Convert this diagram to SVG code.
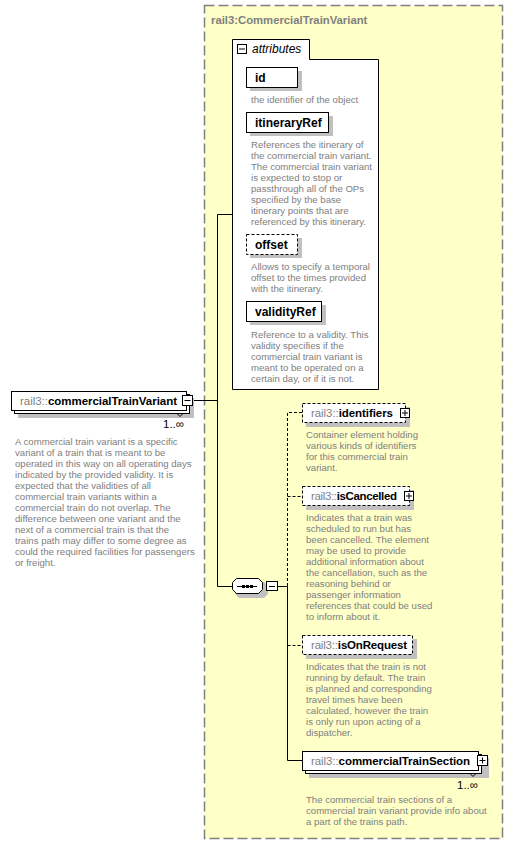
<svg xmlns="http://www.w3.org/2000/svg" width="514" height="845" viewBox="0 0 514 845">
<style>
  .frame { fill: #ffffc8; stroke: #808080; stroke-width: 1.5; stroke-dasharray: 10 4; }
  .title { font-family: "Liberation Sans", Arial, sans-serif; font-size: 11.3px; font-weight: bold; fill: #808080; }
  .box { fill: #ffffff; stroke: #000000; stroke-width: 1; }
  .opt { fill: #ffffff; stroke: #000000; stroke-width: 1; stroke-dasharray: 3 2; }
  .shadow { fill: #c0c0c0; }
  .lbl { font-family: "Liberation Sans", Arial, sans-serif; font-size: 12px; font-weight: bold; fill: #000000; }
  .el { font-size: 11.5px; }
  .ns { font-weight: normal; fill: #808080; }
  .desc { font-family: "Liberation Sans", Arial, sans-serif; font-size: 9.6px; fill: #808080; }
  .card { font-family: "Liberation Sans", Arial, sans-serif; font-size: 11.5px; fill: #000000; }
  .wire { fill: none; stroke: #000000; stroke-width: 1; }
  .dwire { fill: none; stroke: #000000; stroke-width: 1; stroke-dasharray: 3 2; }
  .btn { fill: #ffffff; stroke: #000000; stroke-width: 1; }
</style>

<!-- complex type frame -->
<g id="type-frame">
  <rect class="frame" x="204.5" y="5.5" width="298" height="833"/>
  <text class="title" x="211" y="24">rail3:CommercialTrainVariant</text>
</g>

<!-- connectors -->
<g id="connectors">
  <path class="wire" d="M193,400.5 H217.5 M217.5,214.5 V586.5 M217.5,214.5 H232 M217.5,586.5 H232"/>
  <path class="wire" d="M278,586.5 H287.5 V760.5 H302"/>
  <path class="dwire" d="M287.5,586 V412.5 H302 M287.5,496.5 H302 M287.5,645.5 H302"/>
</g>

<!-- attributes group -->
<g id="attributes">
  <path class="box" d="M232.5,389.5 V39.5 H309.5 V59.5 H378.5 V389.5 Z"/>
  <rect class="btn" x="237.5" y="44.5" width="9" height="9"/>
  <path class="wire" d="M239,49 H245"/>
  <text x="252" y="53" style="font-family:'Liberation Sans',Arial,sans-serif;font-size:12px;font-style:italic;fill:#000">attributes</text>
</g>

<g id="attr-id">
  <rect class="shadow" x="250" y="71" width="52" height="20"/>
  <rect class="box" x="246.5" y="67.5" width="51" height="20"/>
  <text class="lbl" x="255" y="82">id</text>
  <text class="desc" x="251" y="103">the identifier of the object</text>
</g>

<g id="attr-itineraryRef">
  <rect class="shadow" x="250" y="116" width="83" height="20"/>
  <rect class="box" x="246.5" y="112.5" width="82" height="20"/>
  <text class="lbl" x="255" y="127">itineraryRef</text>
  <text class="desc" x="251" y="147.5">References the itinerary of</text>
  <text class="desc" x="251" y="158.5">the commercial train variant.</text>
  <text class="desc" x="251" y="169.5">The commercial train variant</text>
  <text class="desc" x="251" y="180.5">is expected to stop or</text>
  <text class="desc" x="251" y="191.5">passthrough all of the OPs</text>
  <text class="desc" x="251" y="202.5">specified by the base</text>
  <text class="desc" x="251" y="213.5">itinerary points that are</text>
  <text class="desc" x="251" y="224.5">referenced by this itinerary.</text>
</g>

<g id="attr-offset">
  <rect class="shadow" x="250" y="238" width="52" height="20"/>
  <rect class="opt" x="246.5" y="234.5" width="51" height="20"/>
  <text class="lbl" x="255" y="249">offset</text>
  <text class="desc" x="251" y="270">Allows to specify a temporal</text>
  <text class="desc" x="251" y="281">offset to the times provided</text>
  <text class="desc" x="251" y="292">with the itinerary.</text>
</g>

<g id="attr-validityRef">
  <rect class="shadow" x="250" y="305" width="76" height="20"/>
  <rect class="box" x="246.5" y="301.5" width="75" height="20"/>
  <text class="lbl" x="255" y="316">validityRef</text>
  <text class="desc" x="251" y="337.5">Reference to a validity. This</text>
  <text class="desc" x="251" y="348.5">validity specifies if the</text>
  <text class="desc" x="251" y="359.5">commercial train variant is</text>
  <text class="desc" x="251" y="370.5">meant to be operated on a</text>
  <text class="desc" x="251" y="381.5">certain day, or if it is not.</text>
</g>

<!-- root element -->
<g id="commercialTrainVariant">
  <rect class="shadow" x="18" y="398" width="176" height="20"/>
  <rect class="box" x="14.5" y="394.5" width="175" height="19"/>
  <rect class="box" x="11.5" y="391.5" width="175" height="19"/>
  <path class="wire" d="M177,413.5 L180,416.5 L183,413.5"/>
  <text class="lbl el" x="20" y="405" textLength="157"><tspan class="ns">rail3::</tspan>commercialTrainVariant</text>
  <rect class="btn" x="182.5" y="395.5" width="10" height="10"/>
  <path class="wire" d="M184.5,400.5 H190.5"/>
  <text class="card" x="163" y="428">1..∞</text>
  <text class="desc" x="15" y="444.5">A commercial train variant is a specific</text>
  <text class="desc" x="15" y="455.5">variant of a train that is meant to be</text>
  <text class="desc" x="15" y="466.5">operated in this way on all operating days</text>
  <text class="desc" x="15" y="477.5">indicated by the provided validity. It is</text>
  <text class="desc" x="15" y="488.5">expected that the validities of all</text>
  <text class="desc" x="15" y="499.5">commercial train variants within a</text>
  <text class="desc" x="15" y="510.5">commercial train do not overlap. The</text>
  <text class="desc" x="15" y="521.5">difference between one variant and the</text>
  <text class="desc" x="15" y="532.5">next of a commercial train is that the</text>
  <text class="desc" x="15" y="543.5">trains path may differ to some degree as</text>
  <text class="desc" x="15" y="554.5">could the required facilities for passengers</text>
  <text class="desc" x="15" y="565.5">or freight.</text>
</g>

<!-- sequence compositor -->
<g id="sequence">
  <path class="shadow" d="M239,582 H264 L268,586 V594 L264,598 H239 L235,594 V586 Z"/>
  <path class="box" d="M236.5,578.5 H258.5 L262.5,582.5 V589.5 L258.5,593.5 H236.5 L232.5,589.5 V582.5 Z"/>
  <path class="wire" d="M237,586.5 H257"/>
  <rect x="242" y="585" width="3" height="3" fill="#000"/>
  <rect x="246" y="585" width="3" height="3" fill="#000"/>
  <rect x="250" y="585" width="3" height="3" fill="#000"/>
  <rect class="btn" x="266.5" y="581.5" width="11" height="9"/>
  <path class="wire" d="M269,586.5 H275"/>
</g>

<g id="identifiers">
  <rect class="shadow" x="306" y="407" width="104" height="20"/>
  <rect class="opt" x="302.5" y="403.5" width="103" height="19"/>
  <text class="lbl el" x="311" y="417" textLength="82"><tspan class="ns">rail3::</tspan>identifiers</text>
  <rect class="btn" x="400.5" y="408.5" width="9" height="9"/>
  <path class="wire" d="M402,413 H408 M405,410 V416"/>
  <text class="desc" x="306" y="438">Container element holding</text>
  <text class="desc" x="306" y="449">various kinds of identifiers</text>
  <text class="desc" x="306" y="460">for this commercial train</text>
  <text class="desc" x="306" y="471">variant.</text>
</g>

<g id="isCancelled">
  <rect class="shadow" x="306" y="490" width="108" height="20"/>
  <rect class="opt" x="302.5" y="486.5" width="107" height="19"/>
  <text class="lbl el" x="311" y="500" textLength="86"><tspan class="ns">rail3::</tspan>isCancelled</text>
  <rect class="btn" x="404.5" y="491.5" width="9" height="9"/>
  <path class="wire" d="M406,496 H412 M409,493 V499"/>
  <text class="desc" x="306" y="521">Indicates that a train was</text>
  <text class="desc" x="306" y="532">scheduled to run but has</text>
  <text class="desc" x="306" y="543">been cancelled. The element</text>
  <text class="desc" x="306" y="554">may be used to provide</text>
  <text class="desc" x="306" y="565">additional information about</text>
  <text class="desc" x="306" y="576">the cancellation, such as the</text>
  <text class="desc" x="306" y="587">reasoning behind or</text>
  <text class="desc" x="306" y="598">passenger information</text>
  <text class="desc" x="306" y="609">references that could be used</text>
  <text class="desc" x="306" y="620">to inform about it.</text>
</g>

<g id="isOnRequest">
  <rect class="shadow" x="306" y="639" width="111" height="20"/>
  <rect class="opt" x="302.5" y="635.5" width="110" height="19"/>
  <text class="lbl el" x="311" y="649" textLength="96"><tspan class="ns">rail3::</tspan>isOnRequest</text>
  <text class="desc" x="306" y="670">Indicates that the train is not</text>
  <text class="desc" x="306" y="681">running by default. The train</text>
  <text class="desc" x="306" y="692">is planned and corresponding</text>
  <text class="desc" x="306" y="703">travel times have been</text>
  <text class="desc" x="306" y="714">calculated, however the train</text>
  <text class="desc" x="306" y="725">is only run upon acting of a</text>
  <text class="desc" x="306" y="736">dispatcher.</text>
</g>

<g id="commercialTrainSection">
  <rect class="shadow" x="309" y="758" width="180" height="20"/>
  <rect class="box" x="305.5" y="754.5" width="176" height="19"/>
  <rect class="box" x="302.5" y="751.5" width="176" height="19"/>
  <path class="wire" d="M470,773.5 L473,776.5 L476,773.5"/>
  <text class="lbl el" x="311" y="765" textLength="159"><tspan class="ns">rail3::</tspan>commercialTrainSection</text>
  <rect class="btn" x="477.5" y="755.5" width="10" height="10"/>
  <path class="wire" d="M479.5,760.5 H485.5 M482.5,757.5 V763.5"/>
  <text class="card" x="457" y="789">1..∞</text>
  <text class="desc" x="306" y="802.5">The commercial train sections of a</text>
  <text class="desc" x="306" y="813.5">commercial train variant provide info about</text>
  <text class="desc" x="306" y="824.5">a part of the trains path.</text>
</g>
</svg>
